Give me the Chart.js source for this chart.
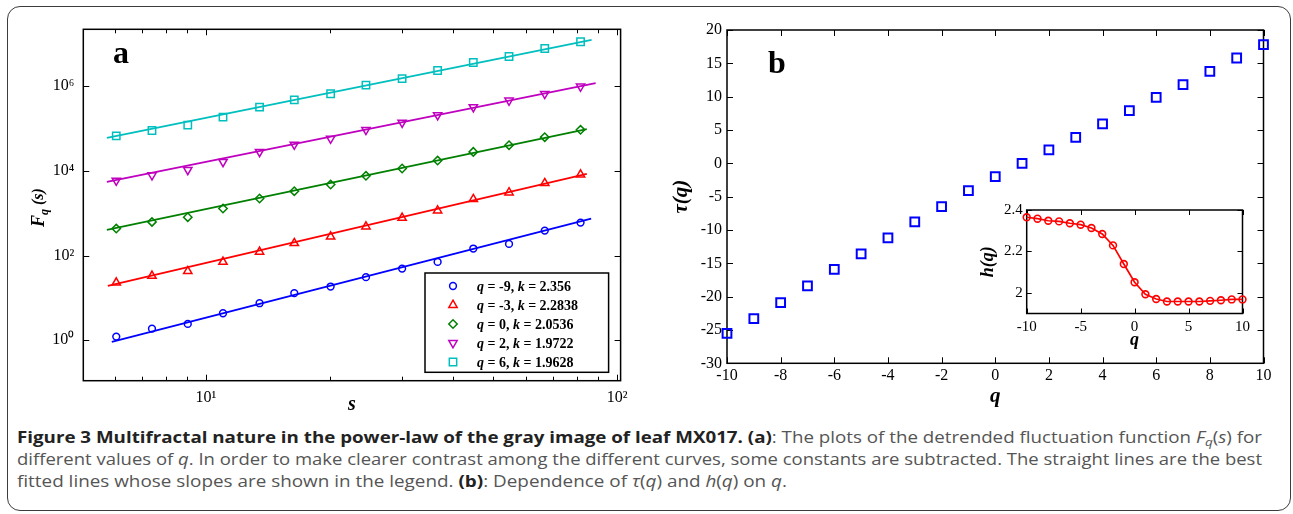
<!DOCTYPE html>
<html>
<head>
<meta charset="utf-8">
<title>Figure 3</title>
<script src="https://cdn.jsdelivr.net/npm/chart.js@4.4.1/dist/chart.umd.min.js"></script>
<style>
  html, body { margin: 0; padding: 0; background: #fff; }
  body { position: relative; width: 1293px; height: 514px; overflow: hidden; }
  #frame { position: absolute; left: 7px; top: 6px; width: 1284px; height: 505px; box-sizing: border-box;
           border: 1.5px solid #3c3c3c; border-radius: 13px; }
  canvas { position: absolute; }
  #chartA { left: 0; top: 0; }
  #chartB { left: 640px; top: 0; }
  #chartH { left: 960px; top: 195px; }
  #caption { position: absolute; left: 17px; top: 426px; font-family: 'Open Sans', 'Noto Sans', sans-serif;
             font-size: 15.5px; line-height: 22px; color: #555; }
  #caption .ln { white-space: nowrap; height: 22px; }
  #caption .t { display: inline-block; transform-origin: 0 50%; }
  #caption b { color: #222; }
  #caption sub { font-size: 0.72em; line-height: 0; vertical-align: -0.3em; }
</style>
</head>
<body>
<div id="frame"></div>
<canvas id="chartA" width="650" height="420"></canvas>
<canvas id="chartB" width="653" height="420"></canvas>
<canvas id="chartH" width="295" height="165"></canvas>
<div id="caption">
  <div class="ln"><span class="t" data-w="1245"><b>Figure 3 Multifractal nature in the power-law of the gray image of leaf MX017. (a)</b>: The plots of the detrended fluctuation function <i>F</i><sub><i>q</i></sub>(<i>s</i>) for</span></div>
  <div class="ln"><span class="t" data-w="1245">different values of <i>q</i>. In order to make clearer contrast among the different curves, some constants are subtracted. The straight lines are the best</span></div>
  <div class="ln"><span class="t" data-w="770">fitted lines whose slopes are shown in the legend. <b>(b)</b>: Dependence of <i>&tau;</i>(<i>q</i>) and <i>h</i>(<i>q</i>) on <i>q</i>.</span></div>
</div>
<script>

// ---- panel a : F_q(s) against s ----
let sValues = [6.05, 7.39, 9.03, 11.0, 13.5, 16.4, 20.1, 24.5, 30.0, 36.6, 44.7, 54.6, 66.7, 81.5];
let fqNeg9 = [1.22, 1.88, 2.43, 4.34, 7.48, 12.9, 18.5, 30.8, 49.1, 70.5, 146, 188, 387, 598];
let fqNeg3 = [22.9, 33.0, 42.6, 70.6, 122, 195, 279, 482, 773, 1150, 2130, 3060, 5090, 8130];
let fqZero = [432, 621, 802, 1280, 2210, 3300, 4720, 7590, 11300, 17400, 27900, 40200, 62100, 92500];
let fqPos2 = [5880, 7870, 10500, 16200, 27900, 41600, 57500, 92500, 137000, 206000, 318000, 455000, 655000, 973000];
let fqPos6 = [66700, 88900, 119000, 185000, 318000, 472000, 655000, 1050000, 1500000, 2320000, 3590000, 4980000, 7670000, 11070000];

// ends of the fitted straight lines
let fitSNeg9 = [5.9, 86.5],  fitNeg9 = [0.91, 743];
let fitSNeg3 = [5.77, 84.4], fitNeg3 = [19.1, 8450];
let fitSZero = [5.74, 84.4], fitZero = [402, 96000];
let fitSPos2 = [5.74, 88.7], fitPos2 = [5470, 1170000];
let fitSPos6 = [5.74, 86.7], fitPos6 = [59800, 12300000];

let legendQ = ['-9', '-3', '0', '2', '6'];
let legendK = ['2.356', '2.2838', '2.0536', '1.9722', '1.9628'];

let sTicks = [6, 7, 8, 9, 10, 20, 30, 40, 50, 60, 70, 80, 90, 100];
let sTickLabels = { 10: '10\u00b9', 100: '10\u00b2' };
let fTicks = [1, 100, 10000, 1000000];
let fTickLabels = { 1: '10\u2070', 100: '10\u00b2', 10000: '10\u2074', 1000000: '10\u2076' };

// ---- panel b : tau(q), inset h(q) ----
let qValues = [-10, -9, -8, -7, -6, -5, -4, -3, -2, -1, 0, 1, 2, 3, 4, 5, 6, 7, 8, 9, 10];
let tauValues = [-25.5, -23.3, -20.9, -18.4, -15.9, -13.6, -11.2, -8.8, -6.5, -4.1, -2.0, 0.0, 2.0, 3.9, 5.9, 7.9, 9.9, 11.8, 13.8, 15.8, 17.8];
let hValues = [2.365, 2.358, 2.348, 2.345, 2.336, 2.329, 2.313, 2.284, 2.229, 2.139, 2.051, 1.993, 1.970, 1.958, 1.958, 1.958, 1.958, 1.961, 1.964, 1.968, 1.968];

let qTicks = [-10, -8, -6, -4, -2, 0, 2, 4, 6, 8, 10];
let tauTicks = [-30, -25, -20, -15, -10, -5, 0, 5, 10, 15, 20];
let qInsetTicks = [-10, -5, 0, 5, 10];
let hTicks = [2, 2.2, 2.4];


const SERIF = '"Liberation Serif", "Times New Roman", serif';
Chart.defaults.font.family = SERIF;
Chart.defaults.color = '#000';

function f(size, style, weight) {
  return { family: SERIF, size: size, style: style || 'normal', weight: weight || 'normal' };
}

function pts(xs, ys) {
  return xs.map((x, i) => ({ x: x, y: ys[i] }));
}

function markers(label, ys, color, style, radius, rotation) {
  return {
    label: label,
    data: pts(sValues, ys),
    borderColor: color,
    backgroundColor: 'rgba(0,0,0,0)',
    pointStyle: style,
    pointRadius: radius,
    pointRotation: rotation || 0,
    pointBorderWidth: 1.5,
    borderWidth: 1.5,
    showLine: false,
    clip: false
  };
}

function fitLine(xs, ys, color) {
  return {
    data: pts(xs, ys),
    borderColor: color,
    borderWidth: 1.8,
    pointRadius: 0,
    showLine: true,
    clip: false
  };
}

// box around the plot with inward ticks, matlab style
const boxTicks = {
  id: 'boxTicks',
  beforeDraw(chart, args, opts) {
    if (opts.fill) {
      const a = chart.chartArea;
      chart.ctx.save();
      chart.ctx.fillStyle = '#fff';
      chart.ctx.fillRect(a.left, a.top, a.right - a.left, a.bottom - a.top);
      chart.ctx.restore();
    }
  },
  beforeDatasetsDraw(chart, args, opts) {
    const { ctx, chartArea: a, scales } = chart;
    const major = opts.major || 6, minor = opts.minor || 4;
    ctx.save();
    ctx.strokeStyle = '#000';
    ctx.lineWidth = 1;
    ctx.beginPath();
    scales.x.ticks.forEach(t => {
      const x = Math.round(scales.x.getPixelForValue(t.value)) + 0.5;
      const len = t.label === '' ? minor : major;
      ctx.moveTo(x, a.bottom); ctx.lineTo(x, a.bottom - len);
      ctx.moveTo(x, a.top); ctx.lineTo(x, a.top + len);
    });
    scales.y.ticks.forEach(t => {
      const y = Math.round(scales.y.getPixelForValue(t.value)) + 0.5;
      const len = t.label === '' ? minor : major;
      ctx.moveTo(a.left, y); ctx.lineTo(a.left + len, y);
      ctx.moveTo(a.right, y); ctx.lineTo(a.right - len, y);
    });
    ctx.stroke();
    ctx.lineWidth = opts.lineWidth || 1.5;
    ctx.strokeRect(a.left, a.top, a.right - a.left, a.bottom - a.top);
    ctx.restore();
  }
};

function drawMarker(ctx, ds, x, y) {
  ctx.save();
  ctx.strokeStyle = ds.borderColor;
  ctx.fillStyle = 'rgba(0,0,0,0)';
  ctx.lineWidth = ds.pointBorderWidth;
  Chart.helpers.drawPoint(ctx, {
    pointStyle: ds.pointStyle,
    radius: ds.pointRadius,
    rotation: ds.pointRotation,
    borderWidth: ds.pointBorderWidth
  }, x, y);
  ctx.restore();
}

function runs(ctx, parts, x, y) {
  parts.forEach(p => {
    ctx.font = p[1] + ' 14px ' + SERIF;
    ctx.fillText(p[0], x, y);
    x += ctx.measureText(p[0]).width;
  });
}

const panelA = {
  id: 'panelA',
  afterDraw(chart) {
    const ctx = chart.ctx;
    ctx.save();
    ctx.fillStyle = '#000';
    ctx.textBaseline = 'alphabetic';
    ctx.font = 'bold 32px ' + SERIF;
    ctx.fillText('a', 113, 63);

    // y title F_q (s)
    ctx.save();
    ctx.translate(44, 227);
    ctx.rotate(-Math.PI / 2);
    ctx.font = 'italic bold 18px ' + SERIF;
    ctx.fillText('F', 0, 0);
    let w = ctx.measureText('F').width;
    ctx.font = 'italic bold 12px ' + SERIF;
    ctx.fillText('q', w, 4);
    w += ctx.measureText('q').width + 4;
    ctx.font = 'italic bold 16px ' + SERIF;
    ctx.fillText('(s)', w, -1);
    ctx.restore();

    // legend
    ctx.fillStyle = '#fff';
    ctx.fillRect(425, 273, 183.6, 99.3);
    ctx.strokeStyle = '#000';
    ctx.lineWidth = 1.5;
    ctx.strokeRect(425, 273, 183.6, 99.3);
    ctx.fillStyle = '#000';
    ctx.textBaseline = 'middle';
    legendQ.forEach((q, i) => {
      const y = 286 + i * 19;
      drawMarker(ctx, chart.data.datasets[i], 453, y);
      runs(ctx, [['q', 'italic bold'], [' = ' + q + ', ', 'bold'], ['k', 'italic bold'], [' = ' + legendK[i], 'bold']], 477, y + 1);
    });
    ctx.restore();
  }
};

new Chart(document.getElementById('chartA'), {
  type: 'scatter',
  data: {
    datasets: [
      markers('q = -9', fqNeg9, '#0000ff', 'circle', 3.4),
      markers('q = -3', fqNeg3, '#ff0000', 'triangle', 4.8),
      markers('q = 0', fqZero, '#008000', 'rectRot', 4.2),
      markers('q = 2', fqPos2, '#bf00bf', 'triangle', 4.8, 180),
      markers('q = 6', fqPos6, '#00bfbf', 'rect', 5.2),
      fitLine(fitSNeg9, fitNeg9, '#0000ff'),
      fitLine(fitSNeg3, fitNeg3, '#ff0000'),
      fitLine(fitSZero, fitZero, '#008000'),
      fitLine(fitSPos2, fitPos2, '#bf00bf'),
      fitLine(fitSPos6, fitPos6, '#00bfbf')
    ]
  },
  options: {
    responsive: false,
    animation: false,
    layout: { padding: { top: 29.3, right: 29.4, left: 0, bottom: 3 } },
    plugins: {
      legend: { display: false },
      tooltip: { enabled: false },
      boxTicks: { major: 6, minor: 4 }
    },
    scales: {
      x: {
        type: 'logarithmic',
        min: 5.03,
        max: 102,
        afterFit: s => { s.height = 36.3; },
        afterBuildTicks: s => { s.ticks = sTicks.map(v => ({ value: v })); },
        grid: { display: false, drawTicks: false },
        border: { display: false },
        ticks: { autoSkip: false, maxRotation: 0, padding: 7, font: f(16),
                 callback: v => sTickLabels[v] || '' },
        title: { display: true, text: 's', padding: 0, font: f(20, 'italic', 'bold') }
      },
      y: {
        type: 'logarithmic',
        min: 0.111,
        max: 2.18e7,
        afterFit: s => { s.width = 83.3; },
        afterBuildTicks: s => { s.ticks = fTicks.map(v => ({ value: v })); },
        grid: { display: false, drawTicks: false },
        border: { display: false },
        ticks: { autoSkip: false, padding: 9, font: f(16),
                 callback: v => fTickLabels[v] || '' }
      }
    }
  },
  plugins: [boxTicks, panelA]
});

const panelB = {
  id: 'panelB',
  afterDraw(chart) {
    const ctx = chart.ctx;
    ctx.save();
    ctx.fillStyle = '#000';
    ctx.font = 'bold 32px ' + SERIF;
    ctx.fillText('b', 128, 73);
    ctx.restore();
  }
};

new Chart(document.getElementById('chartB'), {
  type: 'scatter',
  data: {
    datasets: [{
      data: pts(qValues, tauValues),
      borderColor: '#0000ff',
      backgroundColor: 'rgba(0,0,0,0)',
      pointStyle: 'rect',
      pointRadius: 6.2,
      pointBorderWidth: 2,
      clip: false
    }]
  },
  options: {
    responsive: false,
    animation: false,
    layout: { padding: { top: 30, right: 29.5, left: 29.4, bottom: 10.4 } },
    plugins: {
      legend: { display: false },
      tooltip: { enabled: false },
      boxTicks: { major: 6 }
    },
    scales: {
      x: {
        type: 'linear', min: -10, max: 10,
        afterFit: s => { s.height = 46.3; },
        afterBuildTicks: s => { s.ticks = qTicks.map(v => ({ value: v })); },
        grid: { display: false, drawTicks: false },
        border: { display: false },
        ticks: { autoSkip: false, maxRotation: 0, padding: 3, font: f(16), callback: v => String(v) },
        title: { display: true, text: 'q', padding: 0, font: f(21, 'italic', 'bold') }
      },
      y: {
        type: 'linear', min: -30, max: 20,
        afterFit: s => { s.width = 57.6; },
        afterBuildTicks: s => { s.ticks = tauTicks.map(v => ({ value: v })); },
        grid: { display: false, drawTicks: false },
        border: { display: false },
        ticks: { autoSkip: false, padding: 5, font: f(16), callback: v => String(v) },
        title: { display: true, text: '\u03c4(q)', padding: 0, font: f(21, 'italic', 'bold') }
      }
    }
  },
  plugins: [boxTicks, panelB]
});

new Chart(document.getElementById('chartH'), {
  type: 'line',
  data: {
    datasets: [{
      data: pts(qValues, hValues),
      borderColor: '#ff0000',
      backgroundColor: 'rgba(0,0,0,0)',
      borderWidth: 1.7,
      pointStyle: 'circle',
      pointRadius: 3.4,
      pointBorderWidth: 1.6,
      tension: 0,
      clip: false
    }]
  },
  options: {
    responsive: false,
    animation: false,
    layout: { padding: { top: 15, right: 12.5, left: 17.2, bottom: 9.2 } },
    plugins: {
      legend: { display: false },
      tooltip: { enabled: false },
      boxTicks: { major: 5, fill: true }
    },
    scales: {
      x: {
        type: 'linear', min: -10, max: 10,
        afterFit: s => { s.height = 37.3; },
        afterBuildTicks: s => { s.ticks = qInsetTicks.map(v => ({ value: v })); },
        grid: { display: false, drawTicks: false },
        border: { display: false },
        ticks: { autoSkip: false, maxRotation: 0, padding: 5, font: f(15), callback: v => String(v) },
        title: { display: true, text: 'q', padding: 0, font: f(18, 'italic', 'bold') }
      },
      y: {
        type: 'linear', min: 1.9, max: 2.4,
        afterFit: s => { s.width = 49.5; },
        afterBuildTicks: s => { s.ticks = hTicks.map(v => ({ value: v })); },
        grid: { display: false, drawTicks: false },
        border: { display: false },
        ticks: { autoSkip: false, padding: 4, font: f(15), callback: v => String(v) },
        title: { display: true, text: 'h(q)', padding: 0, font: f(18, 'italic', 'bold') }
      }
    }
  },
  plugins: [boxTicks]
});

// squeeze each caption line to the width it has in the figure
function fitCaption() {
  document.querySelectorAll('#caption .t').forEach(el => {
    el.style.transform = '';
    const w = el.getBoundingClientRect().width;
    el.style.transform = 'scaleX(' + (+el.dataset.w / w) + ')';
  });
}
fitCaption();
if (document.fonts) document.fonts.ready.then(fitCaption);

</script>
</body>
</html>
